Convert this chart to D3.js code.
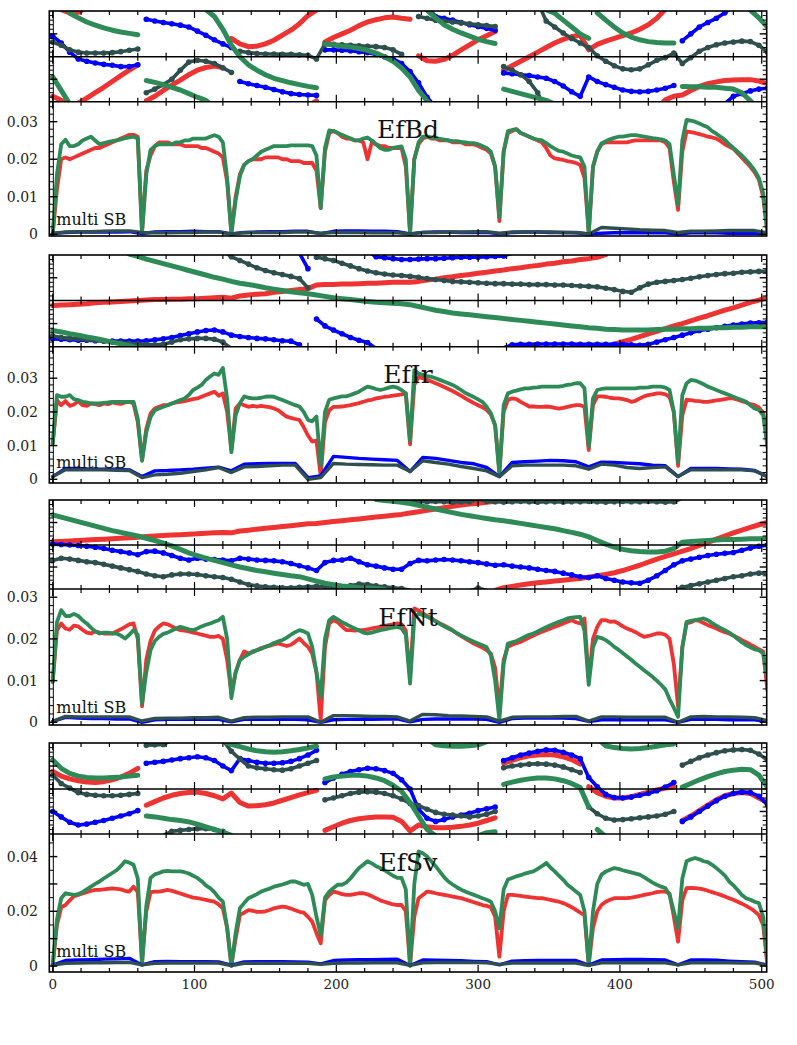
<!DOCTYPE html>
<html>
<head>
<meta charset="utf-8">
<script src="https://cdn.jsdelivr.net/npm/d3@7"></script>
<style>
  html, body { margin: 0; padding: 0; background: #fff; }
  svg { display: block; }
</style>
</head>
<body>
<div id="chart"></div>
<script>
// sample spacing along x for each kind of series
const ampStep = 3, lowStep = 9, phaseStep = 6;

// ---- amplitude, red / green (x 0..504 every 3), values x1e-3 ----
const bdRed = [
  0,12,20,20.5,20,20.5,21,21.5,22,22.5,23,23,23.5,24,24.5,25,25.5,26,26.5,26.5,26,
  0.5,17,21,23.5,24.5,24.5,24.5,24,24,24,23.5,23.5,23.5,23.5,23,23,22.5,22,21.5,20.5,14,
  0.5,10,16,18.5,19.5,20,20,20,20.5,20.5,20.5,20.5,20,20,19.5,19.5,19.5,19,19,19,17,
  7,22,27,27.5,27,26,25.5,25.5,25,25,24.5,20,24.5,24,23.5,23.5,23,23,23,23,18,
  0.5,20,24,25.5,26,25.5,25.5,25,25,25,24.5,24.5,24.5,24,24,24,23.5,23,22.5,21.5,18,
  3.5,22,27,27.5,28,27,26.5,26,25.5,25,24.5,23,21,20.2,20,19.8,19.5,19.3,19,18.5,15,
  0.5,18,22,24,24.5,24.5,24.5,24.5,24.5,24.5,24.8,25,25,25,25,25,25,25,24.5,23,14,
  6.5,22,27.4,27.2,27,26.7,26.4,26,25.8,25.5,24.8,24,23.4,22.8,21.6,20.4,19.2,18,16.5,14.5,10,
  0.5];
const bdGreen = [
  0,16,24,25.2,23.5,23.5,24,25,25.5,26,25,24,24.3,24.6,24.8,25,25.3,25.6,25.8,26,25.5,
  0.5,16,22.5,23.5,24,24,24,24,24.5,24.5,25,25,25.5,25.5,25.5,25.5,26,26.4,26,24.5,15,
  0,9,15.5,18.5,19.5,20,21,22,22.5,23,23.5,23.5,23.5,23.5,23.7,23.7,23.7,23.7,23.7,23.5,21,
  7,23,27.7,27.5,27,26.5,26,25.5,25,25,25.5,25.8,25,24,23,22.5,22.5,23,23.2,23.4,20,
  0,20,24.5,26,26,25.8,25.6,25.4,25.2,25,24.8,24.8,24.6,24.5,24.3,24.3,24,23.5,23,22,18,
  4.5,22,27.5,27.8,28,27,26.5,26,25.5,25.2,25,24.3,23.5,22.8,22.2,22,21.5,21,20.7,20.5,18,
  0,18,22,24.2,24.8,25.3,25.7,26,26,26.2,26.4,26.4,26.2,26,25.8,25.6,25.5,25.3,25,24,16,
  7.8,25,30.5,30.3,30,29.5,29,28.5,27.5,26.8,26,25.2,24,23,22,21,19.8,18.5,17,15,11,
  0];
const irRed = [
  10.5,23.5,22,23.2,21.8,22.2,23.2,22,21.8,22.5,22.3,22,22.5,22.3,22.8,22.5,22.4,22.8,23,22.5,17,
  5.7,15,19.5,21,21.5,22,22,22.5,22.8,23,23.2,23.5,23.8,24,24.5,25,25.5,26,24.8,25.5,20,
  8.7,21,22.5,22,21.5,21.8,21.6,21.8,21.6,21.4,21,20.5,19.5,18.6,18.2,17.9,17.6,15.5,13,11.2,11.5,
  1,17,20.5,21.5,21.5,21.6,21.8,22,22.3,22.6,23,23.4,23.6,24,24.2,24.5,24.6,24.8,25,25.2,25.5,
  10.4,28,30.4,30,29.5,29,28.5,28,27.4,26.8,26.2,25.5,24.8,24,23.3,22.6,22,21.4,20.6,19.2,16,
  2.4,20,23.6,24,23.8,23,22.3,21.6,21.6,21.5,21.5,21.6,21.5,21.2,21,21.2,21.5,21.8,22,22,21.5,
  8.7,22,24.6,24.6,24.5,24.2,24,24,23.8,23.5,23,23.3,24,24.6,25,25.2,25.5,25.5,25.2,24.5,20,
  4,19,23.6,23.5,23.3,23.2,23,23,23.2,23.4,23.6,23.8,24,24,23.6,23.2,22.8,22.3,22,21.3,19.8,
  12];
const irGreen = [
  10.5,25,24.5,24.5,25,23.8,23.5,23,22.8,22.5,22.5,22.5,22.7,22.8,23,23,23,23,23,23,18,
  5.5,14,18.5,20.5,21,21.5,22,22.5,23,23.5,24,25,26.5,27.2,28,29.5,30.5,31.4,31,33,24,
  8,19,22.6,24.6,24.2,24,24,24.2,24.5,24.6,24.5,24,23.5,23,22.5,22,21.6,20,17.6,17.2,18.6,
  4,20,23.6,24,24.3,24.6,24.6,25,25.5,26,26.8,27.5,27.2,26.8,26.5,26.8,27.2,27.5,27.2,26.5,25.5,
  11.4,32.4,31.4,31,30.6,30.4,30,29.5,29,28.5,28,27.3,26.5,25.6,25,24.4,23.7,23,21.5,19.6,16,
  1.3,22,25.5,26,26.3,26.7,27,27,27.2,27.3,27.5,27.5,27.5,27.5,27.5,27.7,28,28.2,28.5,28.5,27,
  9.7,24,26.5,26.8,27,27,27,27,27,27,27,27,27.2,27.2,27.3,27.5,27.5,27.5,27.2,26.5,20,
  5,25,28.5,29.5,29.3,28.8,28.2,27.5,27,26.5,26,25.5,25,24.5,24,23.5,23,22,21,20.6,19,
  9.7];
const ntRed = [
  9.7,22,23.7,22.5,22.2,23.2,23,22.2,21.5,21.3,21.8,21.5,21.3,21.3,21.3,21.8,22.3,22.9,23.5,23.7,20,
  3.8,15,19.5,22,23,23.7,23.5,23,22.5,22.1,22,21.8,21.5,21.3,21,20.8,20.5,20.5,20.7,20,15,
  7,12,15,17,16.5,16.8,17.3,17.8,18.1,18.4,18.7,18.9,18.6,18.3,18.6,19.3,20.1,19,18.1,16.5,12,
  0.5,18,23.7,24.5,24,23,22.1,22.1,22,22.1,22.1,22.3,22.5,22.7,22.9,23.1,23.3,23.5,23.7,23.5,22,
  10.9,27.3,26.8,26.1,25.5,25,24.3,23.7,23.2,22.7,22.1,21.3,20.7,20.1,19.5,18.9,18.4,17.9,17.3,16.5,13,
  3,15,18.1,18.6,19,19.3,19.8,20.3,20.8,21.3,21.7,22.1,22.5,22.9,23.3,23.7,24.1,24.5,24,23.7,24.9,
  10.1,20,22.9,24.5,24.5,24.1,24.2,23.7,23,22.5,22.1,21.6,21,20.5,20.7,21,21.3,21.3,21,20,14,
  3.8,18,23.7,24,24.5,24.3,23.8,23.3,22.9,22.5,22,21.6,21.3,20.8,20.3,19.7,19.2,18.6,18.1,17.5,17,
  7.7];
const ntGreen = [
  9.7,24,26.9,25.5,25.5,26,25.5,24.5,23.7,22.7,21.8,21.3,21.5,21.5,21.3,21.3,20.8,20.1,21,22.1,21,
  4.5,12,17.3,19.5,20.5,21.2,21.5,22,22.5,22.9,22.6,22.3,22.1,22.5,23,23.4,23.7,24.1,24.5,25.3,20,
  5.8,12,14.9,15.7,16.3,17,17.3,17.6,18.1,18.5,19,19.4,19.7,20.3,21,21.6,22.1,21.8,21.3,18.1,12,
  6.1,20,24.5,25.3,24.7,24,23.5,23,22.5,22,21.5,21.3,21.5,21.8,22.1,22.3,22.5,22.7,22.9,22.5,21,
  9.3,25,26.1,25.7,25.3,24.8,24.2,23.6,23,22.5,22,21.4,20.8,20.3,19.8,19.3,18.9,18.5,18,16,10,
  0.5,14,18.9,19.2,19.5,20,20.5,21,21.3,21.8,22.3,22.8,23.3,23.7,24.1,24.5,24.9,25.1,25.2,25.3,22,
  9,18,20.5,20.2,19.7,19,18.1,17.4,16.6,15.8,15,14.1,13.3,12.5,11.7,10.9,10,9,7.9,5.5,3.5,
  1.3,18,24.1,24.3,24.5,24.7,24.9,24.5,23.8,23.2,22.6,22.1,21.5,20.8,20,19.2,18.5,18,17.5,17.3,16.5,
  10.1];
const svRed = [
  0.3,15,21.5,22.3,24,25.5,26,26.5,27,27.5,27.8,27.8,28,28.2,28.4,28.2,28,27.5,27.2,29,27,
  1.6,20,27,27.2,27.2,27.5,27.8,27.5,27,26.5,26,25.5,25,24.8,24.5,24.2,23.8,23.5,22.5,21.1,14,
  0.4,10,18.6,19.5,20.4,20.2,19.8,19.8,20,20.5,21.1,21.4,21.7,21.5,21,20.4,19.8,19.5,18,16.2,12,
  8.3,24,26,27.2,26.8,26.3,26,26,26.3,26.6,26.6,26.2,25.5,24.8,24,23.5,23,22.5,22.3,22.3,20,
  0.4,18,24.8,26,27.2,27,26.6,26.3,26,25.7,25.4,25.1,24.8,24.3,23.8,23.3,22.8,22.3,22,21.5,18,
  3.4,20,26,26,25.8,25.6,25.4,25.2,25,24.8,24.8,24.5,24.2,23.8,23.5,23,22.3,21.5,20.5,19.5,18.6,
  0.4,14,20,22.3,23.5,24.2,24.8,24.8,24.8,24.8,25,25.3,25.6,26,26.3,26.6,27,27.2,27.2,26.5,18,
  8.9,24,28.5,28.6,28.5,28.3,28,27.5,27,26.5,26,25.4,24.8,24.2,23.5,22.8,22,21.1,20,18.6,15,
  0.4];
const svGreen = [
  0.3,17,24.8,26.6,26.3,26,26.3,27,28,29,30,30.9,32,33,34,35,36.5,38.3,37.8,37,32,
  0.4,22,32.2,33.5,34,34.6,34.8,34.6,34.6,34.6,34.3,33.8,33,32.2,31,29.5,28.5,27,25,23.5,14,
  0,12,21.1,23,24.8,25.5,26.3,27.2,27.8,28.3,29,29.4,29.8,30.3,30.9,30.9,30.3,29.7,30,26,18,
  11.3,25,27.2,28.5,29.7,29.7,30.5,32,34,35.8,37,38.3,37.5,36.5,35.8,35,34,33,32.2,32.2,28,
  0,30,41.9,41.2,40,38.3,36.5,34.5,32.5,30.9,29.8,28.8,27.9,27.2,26.6,26,25.4,24.8,24.2,23.5,20,
  13.8,28,31.6,32.2,32.8,33.2,33.8,34.2,34.6,35.5,36.5,37.7,36,34.6,33,31.5,29.7,28.5,27.2,26,20,
  0.4,20,30,33.4,34.5,35.2,35.8,35.5,35,34.6,34.2,33.8,33.4,32.5,31.5,30.5,29.7,29,28.5,26,20,
  13.8,32,38.3,39,39.5,39,38.3,38,37,35.8,34.5,33,30.9,29.5,27.8,26,24.8,24.2,23.5,23,18,
  0.4];

// ---- amplitude, blue / dark gray (x 0..504 every 9), values x1e-3 ----
const bdBlue = [0.2,0.5,0.6,0.6,0.6,0.6,0.7,0.2,0.6,0.7,0.7,0.8,0.7,0.7,0.1,0.5,0.6,0.7,0.7,0.8,0.8,0.2,0.8,0.9,0.9,0.8,0.8,0.7,0.1,0.5,0.6,0.6,0.5,0.5,0.5,0.1,0.5,0.6,0.6,0.5,0.5,0.4,0.1,0.3,0.4,0.4,0.4,0.4,0.4,0.1,0.4,0.4,0.4,0.3,0.3,0.3,0.1];
const bdGray = [0.2,0.6,0.7,0.7,0.8,0.9,0.9,0.5,0.4,0.4,0.5,0.5,0.6,0.6,0.1,0.4,0.5,0.5,0.5,0.6,0.6,0.3,0.5,0.5,0.5,0.4,0.4,0.4,0.1,0.5,0.5,0.6,0.6,0.7,0.7,0.3,0.6,0.6,0.6,0.6,0.5,0.5,0.1,1.8,1.6,1.4,1.2,1.1,1,0.5,0.8,0.8,0.9,1,1,1,0.4];
const irBlue = [0.8,3.2,3.2,3,3,3,2.8,0.8,2.5,2.6,2.8,3,3.3,3.6,2.5,4.5,4.6,4.7,4.7,4.7,0.5,1,6.8,6.5,6.2,6,5.8,5.6,2.3,6.5,6.2,5.6,5,4.6,3.5,0.8,5,5.2,5.4,5.6,5.5,5.2,3.7,5.1,5,4.8,4.6,4.2,4,0.8,3.2,3.2,3.2,3.1,3,2.6,0.8];
const irGray = [0.8,2.8,2.8,2.8,2.8,2.7,2.6,0.5,1.3,1.5,1.8,2.3,2.8,3.5,2,3.7,3.8,4,4.2,4.2,0,0.5,4.7,4.5,4.4,4.3,4.2,4.2,2.3,5.5,5,4.5,3.8,3.2,2.5,0.8,4,4.2,4.2,4.2,4.2,4,3,4.5,4.2,3.5,3.2,3.5,3.7,0.8,2.8,2.8,2.8,2.8,2.8,2.5,0.8];
const ntBlue = [0.2,1.2,1,0.9,0.9,0.8,0.8,0,0.6,0.7,0.7,0.7,0.7,0.7,0.1,0.7,0.7,0.7,0.7,0.7,0.6,0,0.6,0.7,0.7,0.7,0.8,0.8,0.1,0.7,0.8,0.8,0.8,0.8,0.7,0,0.9,1,1,1,1,0.9,0.2,0.6,0.6,0.6,0.6,0.6,0.6,0,0.7,0.7,0.7,0.6,0.6,0.6,0.2];
const ntGray = [0.2,1.4,1.3,1.3,1.3,1.3,1.3,0.3,0.9,1,1,1.1,1.1,1.2,0.3,1.1,1.2,1.2,1.3,1.3,1.3,0,1.6,1.6,1.5,1.4,1.4,1.3,0.3,1.9,1.8,1.6,1.5,1.4,1.3,0.3,1.2,1.3,1.3,1.3,1.4,1.4,0.3,1.3,1.3,1.2,1.2,1.2,1.2,0,1.3,1.4,1.3,1.3,1.2,1.1,0.4];
const svBlue = [0.3,2,2.2,2.3,2.5,2.6,2.8,0.4,1.6,1.7,1.6,1.6,1.6,1.5,0.3,1.5,1.6,1.6,1.6,1.5,1.4,0.8,2,2.2,2.3,2.3,2.4,2.5,0.2,2.2,2.1,2,1.9,1.7,1.6,0.4,1.8,1.9,2,2,2,2,0.3,2.2,2.3,2.4,2.4,2.3,2.2,0.4,2.2,2.2,2.1,1.8,1.6,1.4,0.3];
const svGray = [0.3,1,1.1,1.2,1.2,1.3,1.3,0.4,1,1.1,1.1,1.1,1.1,1.1,0.2,1,1,1,1,1,1,0.6,1,1.1,1.1,1.2,1.2,1.2,0.2,1.2,1.3,1.3,1.3,1.3,1.2,0.6,1.1,1.1,1.1,1.1,1.1,1.1,0.2,1.2,1.2,1.2,1.2,1.2,1.2,0.4,1.2,1.2,1.2,1.2,1.1,1.1,0.3];

// ---- phase (x 0..504 every 6), -100 = bottom of lower strip, 100 = top of upper strip ----
const bdPhRed = [
  -88,-97,96,97,-92,-80,-68,-55,-42,-30,-18,
  -98,-88,-75,-63,-52,-40,-30,-24,-21,-24,40,
  28,22,23,28,36,47,58,72,90,-98,32,
  42,50,58,68,76,81,85,87,84,82,2,
  -9,-10,-6,3,15,26,37,46,55,-30,-20,
  -10,0,10,20,30,38,44,47,15,27,34,
  40,46,52,60,70,84,-96,-88,-85,-75,-66,
  -60,-56,-53,-52,-51,-51,-54,-60];
const bdPhBlue = [
  45,30,10,-5,-10,-14,-17,-19,-22,-22,-18,
  82,78,75,72,69,65,56,47,37,28,20,
  -55,-60,-64,-68,-73,-78,-82,-84,-85,-86,15,
  15,14,13,11,9,5,0,-5,-15,-33,-58,
  -90,88,84,80,75,70,66,62,58,-36,-38,
  -40,-42,-45,-48,-55,-65,-78,-88,-45,-55,-62,
  -68,-74,-77,-78,-77,-74,-70,-64,35,50,65,
  75,84,96,-88,-82,-76,-72,-70];
const bdPhGray = [
  32,25,15,10,8,8,8,9,11,14,17,
  -80,-72,-62,-50,-30,-12,-8,-10,-15,-25,-35,
  12,9,7,6,6,5,5,4,3,-5,28,
  27,26,25,24,23,22,20,15,5,null,88,
  84,80,78,76,74,72,70,68,66,-22,-30,
  -40,-55,-80,78,65,52,40,30,20,2,-10,
  -20,-27,-29,-27,-18,-8,-2,8,-15,-2,12,
  20,26,30,32,34,33,25,10];
const bdPhGreen = [
  -45,-75,95,85,76,69,63,58,54,51,48,
  -53,-57,-62,-68,-74,-82,-90,-97,88,60,25,
  0,-18,-30,-40,-48,-53,-58,-62,-66,-69,28,
  26,23,21,18,14,8,0,-10,-25,-45,-75,
  -98,85,70,60,52,45,38,33,29,-72,-77,
  -82,-87,-92,-97,95,80,65,50,40,96,80,
  65,52,43,37,33,31,30,30,-66,-67,-67,
  -68,-68,-70,-72,-80,-98,85,65];

const irPhRed = [
  -11,-10,-9,-8,-7,-5,-4,-3,-2,-1,0,
  1,2,2,3,3,4,4,5,6,7,5,
  10,12,14,15,18,20,22,24,26,34,35,
  35,36,36,37,38,38,39,40,40,40,42,
  45,47,50,52,55,57,60,62,65,67,70,
  72,75,77,80,82,85,87,90,92,95,-99,
  -95,-89,-84,-78,-72,-67,-61,-55,-50,-44,-38,
  -33,-27,-21,-16,-10,-4,1,6];
const irPhBlue = [
  -83,-84,-85,-86,-86,-87,-87,-88,-88,-88,-88,
  -87,-85,-83,-80,-76,-72,-68,-65,-64,-68,-75,
  -78,-80,-82,-83,-85,-87,-88,-96,70,-40,-55,
  -64,-72,-80,-86,-91,96,94,92,90,90,91,
  92,92,93,94,95,95,95,96,97,98,-96,
  -95,-95,-94,-94,-94,-94,-94,-95,-95,-95,-95,
  -95,-95,-96,-97,-95,-90,-85,-80,-75,-70,-65,
  -62,-59,-56,-53,-51,-49,-48,-47];
const irPhGray = [
  -77,-80,-82,-83,-85,-86,-88,-90,-91,-93,-94,
  -95,-96,-95,-90,-85,-83,-82,-82,-84,-90,96,
  88,80,72,66,61,57,53,48,28,95,92,
  88,82,76,70,65,61,58,56,55,53,51,
  48,46,44,42,41,40,39,38,37,37,36,
  36,35,35,35,34,34,33,32,31,30,27,
  24,20,18,28,36,40,42,44,46,49,52,
  55,57,59,60,62,63,64,64];
const irPhGreen = [
  -65,-68,-72,-75,-79,-82,-86,-90,-94,-98,97,
  91,86,81,76,71,66,61,56,51,47,42,
  38,35,32,28,25,22,19,17,15,12,9,
  6,4,2,0,-2,-4,-5,-6,-7,-9,-13,
  -17,-21,-24,-27,-29,-31,-33,-35,-37,-39,-41,
  -43,-45,-47,-49,-51,-53,-55,-57,-59,-60,-62,
  -63,-64,-64,-64,-64,-63,-62,-62,-61,-61,-60,
  -60,-59,-59,-58,-58,-57,-57,-57];

const ntPhRed = [
  7,8,9,10,11,12,13,14,15,16,17,
  19,20,21,22,23,24,25,26,27,28,27,
  31,33,35,37,39,41,43,45,47,48,50,
  52,54,56,58,60,62,64,66,68,71,74,
  77,80,83,86,89,91,93,95,97,-97,-94,
  -91,-88,-86,-84,-82,-80,-78,-76,-73,-70,-67,
  -63,-58,-52,-46,-39,-32,-26,-20,-14,-8,-1,
  6,13,20,27,33,39,45,50];
const ntPhBlue = [
  2,1,0,-1,-3,-5,-8,-12,-15,-18,-22,
  -15,-14,-18,-24,-30,-34,-30,-32,-33,-34,-36,
  -30,-32,-34,-35,-36,-38,-42,-47,-52,-58,-40,
  -35,-34,-30,-38,-45,-48,-52,-55,-55,-42,-35,
  -36,-34,-33,-34,-36,-38,-40,-43,-46,-45,-48,
  -50,-52,-55,-58,-60,-64,-68,-72,-74,-70,-76,
  -80,-84,-86,-87,-80,-70,-58,-45,-36,-32,-28,
  -24,-21,-19,-17,-12,-7,-3,0];
const ntPhGray = [
  -35,-30,-32,-35,-38,-40,-44,-48,-52,-56,-60,
  -66,-70,-72,-68,-66,-66,-67,-70,-72,-74,-78,
  -84,-90,-93,-95,-96,-97,-97,-96,-95,-94,-95,
  -96,-95,-92,-89,-90,-93,-95,-97,-99,97,96,
  96,97,96,95,96,96,-98,97,96,95,96,
  97,96,95,96,96,95,96,96,97,96,95,
  96,97,96,96,97,96,95,96,-96,-92,-88,
  -84,-80,-76,-72,-70,-66,-64,-64];
const ntPhGreen = [
  67,62,57,52,47,42,37,32,28,24,20,
  15,10,4,-2,-10,-18,-24,-30,-35,-40,-45,
  -50,-54,-58,-61,-64,-67,-70,-72,-77,-82,-87,
  -90,-93,-95,-97,-98,-99,99,97,95,92,88,
  84,80,76,72,68,65,62,59,56,54,51,
  48,45,42,39,36,32,28,24,18,10,2,
  -5,-10,-13,-15,-16,-16,-14,-8,6,8,9,
  10,11,12,12,13,14,14,15];

const svPhRed = [
  38,28,22,18,15,14,16,20,26,34,45,
  -36,-28,-20,-14,-10,-8,-7,-10,-15,-22,-9,
  -30,-38,-37,-35,-31,-25,-19,-13,-8,-3,-92,
  -84,-76,-70,-66,-64,-62,-62,-63,-72,-93,-80,
  -84,-86,-86,-85,-83,-80,-76,-70,-64,56,62,
  68,72,74,75,74,70,64,54,5,-8,-16,
  -20,-20,-17,-12,-7,-2,2,4,-70,-60,-48,
  -36,-24,-15,-10,-8,-10,-20,-30];
const svPhBlue = [
  -50,-62,-74,-80,-78,-74,-70,-65,-60,-55,-48,
  56,58,60,63,66,68,70,68,62,50,40,
  66,62,58,56,56,57,60,66,74,84,14,
  24,32,38,42,45,44,40,34,20,0,-45,
  -65,-72,-68,-62,-58,-54,-48,-44,-40,62,68,
  74,78,82,85,84,80,74,66,25,5,-12,
  -19,-20,-18,-14,-10,-4,4,14,-72,-62,-50,
  -38,-26,-16,-10,-7,-8,-16,-35];
const svPhGray = [
  30,12,2,-8,-12,-14,-15,-15,-14,-12,-10,
  95,96,97,-94,-92,-90,-88,-88,-90,-94,82,
  65,50,46,44,42,41,44,50,56,62,-24,
  -20,-15,-10,-7,-6,-7,-10,-15,-22,-32,-37,
  -45,-52,-56,-58,-60,-62,-60,-56,-50,46,50,
  52,54,55,54,52,48,42,36,-40,-55,-65,
  -69,-68,-66,-64,-62,-60,-56,-50,52,60,68,
  74,79,83,85,86,84,76,63];
const svPhGreen = [
  63,45,34,28,25,24,24,25,26,28,30,
  -60,-62,-65,-68,-70,-73,-78,-84,-90,-96,97,
  92,87,83,81,80,81,83,86,89,93,22,
  26,28,30,30,28,24,18,8,-5,-30,-60,
  -90,96,94,93,93,94,96,-97,-95,10,15,
  19,22,24,24,22,18,12,3,-40,-90,94,
  90,88,87,88,90,93,96,98,4,12,20,
  27,33,38,41,43,42,30,4];

const groupNames = ["EfBd", "EfIr", "EfNt", "EfSv"];
const xTickLabels = [0, 100, 200, 300, 400, 500];

// ---- layout (pixels) ----
const W = 797, H = 1045;
const xLeft = 49.3, xRight = 766.7;
const layout = [
  { top: 11,  mid: 56.7,  pb: 101.7, mb: 236, yMin: -0.45, yMax: 35.33, minor: 2, major: 10, labelStep: 10, note: 11 },
  { top: 255, mid: 300.5, pb: 346.7, mb: 483, yMin: -1.1,  yMax: 39.35, minor: 2, major: 10, labelStep: 10, note: 14.7 },
  { top: 500, mid: 545,   pb: 589,   mb: 725, yMin: -0.65, yMax: 31.97, minor: 2, major: 10, labelStep: 10, note: 11.7 },
  { top: 743, mid: 789,   pb: 834,   mb: 972, yMin: -2.19, yMax: 48.26, minor: 5, major: 10, labelStep: 20, note: 15.3 }
];
const series = [
  { red: bdRed, green: bdGreen, blue: bdBlue, gray: bdGray, ph: [bdPhRed, bdPhBlue, bdPhGray, bdPhGreen] },
  { red: irRed, green: irGreen, blue: irBlue, gray: irGray, ph: [irPhRed, irPhBlue, irPhGray, irPhGreen] },
  { red: ntRed, green: ntGreen, blue: ntBlue, gray: ntGray, ph: [ntPhRed, ntPhBlue, ntPhGray, ntPhGreen] },
  { red: svRed, green: svGreen, blue: svBlue, gray: svGray, ph: [svPhRed, svPhBlue, svPhGray, svPhGreen] }
];

const RED = "#ee3333", GREEN = "#2e8b57", BLUE = "#0000ff", GRAY = "#2f4f4f";
const phColors = [RED, BLUE, GRAY, GREEN];
const font = "DejaVu Serif, serif";

const x = d3.scaleLinear().domain([-2.4, 503.5]).range([xLeft, xRight]);

const svg = d3.select("#chart").append("svg")
  .attr("width", W).attr("height", H)
  .attr("viewBox", [0, 0, W, H]);

// split a wrapped phase series into drawable runs;
// a wrap (value leaving one edge, coming back at the other) is continued across the edge
function phaseRuns(vals) {
  const runs = [];
  let cur = [];
  vals.forEach((v, i) => {
    const xv = i * phaseStep;
    if (v == null) { if (cur.length) runs.push(cur); cur = []; return; }
    if (cur.length) {
      const p = cur[cur.length - 1];
      const d = v - p[1];
      if (Math.abs(d) > 45) {
        const wrap = Math.abs(Math.abs(d) - 200) < 50;
        if (wrap) cur.push([xv, d < 0 ? v + 200 : v - 200]);
        runs.push(cur);
        cur = wrap ? [[p[0], d < 0 ? p[1] - 200 : p[1] + 200]] : [];
      }
    }
    cur.push([xv, v]);
  });
  if (cur.length) runs.push(cur);
  return runs;
}

layout.forEach((L, gi) => {
  const S = series[gi];
  const g = svg.append("g");

  const yPh = d3.scaleLinear().domain([-100, 0, 100]).range([L.pb, L.mid, L.top]);
  const yAmp = d3.scaleLinear().domain([L.yMin, L.yMax]).range([L.mb, L.pb]);

  const clipPh = "clipPh" + gi, clipAmp = "clipAmp" + gi;
  const defs = svg.append("defs");
  defs.append("clipPath").attr("id", clipPh).append("rect")
    .attr("x", xLeft).attr("y", L.top).attr("width", xRight - xLeft).attr("height", L.pb - L.top);
  defs.append("clipPath").attr("id", clipAmp).append("rect")
    .attr("x", xLeft).attr("y", L.pb).attr("width", xRight - xLeft).attr("height", L.mb - L.pb);

  // phase strips
  const gp = g.append("g").attr("clip-path", `url(#${clipPh})`);
  const phLine = d3.line().x(d => x(d[0])).y(d => yPh(d[1]));
  S.ph.forEach((vals, k) => {
    const col = phColors[k];
    const dotted = col === BLUE || col === GRAY;
    const runs = phaseRuns(vals);
    runs.forEach(run => {
      if (run.length > 1) {
        gp.append("path").attr("d", phLine(run))
          .attr("fill", "none").attr("stroke", col)
          .attr("stroke-width", dotted ? 3.6 : 5)
          .attr("stroke-linecap", "round").attr("stroke-linejoin", "round");
      }
    });
    const pts = vals.map((v, i) => [i * phaseStep, v]).filter(d => d[1] != null);
    if (dotted) {
      gp.append("g").selectAll("circle").data(pts).join("circle")
        .attr("cx", d => x(d[0])).attr("cy", d => yPh(d[1]))
        .attr("r", 2.8).attr("fill", col);
    } else {
      runs.filter(r => r.length === 1).forEach(r => {
        gp.append("circle").attr("cx", x(r[0][0])).attr("cy", yPh(r[0][1]))
          .attr("r", 2.6).attr("fill", col);
      });
    }
  });

  // amplitude panel
  const ga = g.append("g").attr("clip-path", `url(#${clipAmp})`);
  const ampLine = step => d3.line().x((d, i) => x(i * step)).y(d => yAmp(d));
  [[S.red, RED, ampStep, 3.8], [S.green, GREEN, ampStep, 3.8], [S.blue, BLUE, lowStep, 3.4], [S.gray, GRAY, lowStep, 3.4]]
    .forEach(([vals, col, step, sw]) => {
      ga.append("path").attr("d", ampLine(step)(vals))
        .attr("fill", "none").attr("stroke", col).attr("stroke-width", sw)
        .attr("stroke-linejoin", "round").attr("stroke-linecap", "round");
    });

  // frames
  const axes = g.append("g").attr("stroke", "#000").attr("fill", "none");
  axes.append("rect").attr("x", xLeft).attr("y", L.top)
    .attr("width", xRight - xLeft).attr("height", L.mb - L.top).attr("stroke-width", 1.6);
  [L.mid, L.pb].forEach(yy => axes.append("line")
    .attr("x1", xLeft).attr("x2", xRight).attr("y1", yy).attr("y2", yy).attr("stroke-width", 1.6));
  // inner left rail
  axes.append("line").attr("x1", xLeft + 4).attr("x2", xLeft + 4)
    .attr("y1", L.top).attr("y2", L.mb).attr("stroke-width", 1);

  // x ticks on every horizontal edge
  const xt = d3.range(0, 501, 20);
  const edges = [[L.top, 1], [L.mid, -1], [L.mid, 1], [L.pb, -1], [L.pb, 1], [L.mb, -1]];
  edges.forEach(([yy, dir]) => {
    xt.forEach(v => {
      const len = v % 100 === 0 ? 7 : 4;
      axes.append("line").attr("x1", x(v)).attr("x2", x(v))
        .attr("y1", yy).attr("y2", yy + dir * len).attr("stroke-width", 1.2);
    });
  });

  // y ticks, phase strips
  d3.range(-90, 100, 10).forEach(v => {
    const major = Math.abs(v) === 50;
    const yy = yPh(v);
    axes.append("line").attr("x1", xLeft).attr("x2", xLeft + (major ? 8 : 4))
      .attr("y1", yy).attr("y2", yy).attr("stroke-width", major ? 1.4 : 1);
    axes.append("line").attr("x1", xRight).attr("x2", xRight - (major ? 7 : 4))
      .attr("y1", yy).attr("y2", yy).attr("stroke-width", major ? 1.4 : 1);
  });

  // y ticks, amplitude panel
  d3.range(0, L.yMax, L.minor).forEach(v => {
    const major = Math.abs(v % L.major) < 1e-9;
    const yy = yAmp(v);
    axes.append("line").attr("x1", xLeft).attr("x2", xLeft + (major ? 8 : 4))
      .attr("y1", yy).attr("y2", yy).attr("stroke-width", major ? 1.4 : 1);
    axes.append("line").attr("x1", xRight).attr("x2", xRight - (major ? 7 : 4))
      .attr("y1", yy).attr("y2", yy).attr("stroke-width", major ? 1.4 : 1);
  });

  // y labels
  const fmt = d3.format("~g");
  g.append("g").selectAll("text")
    .data(d3.range(0, L.yMax, L.labelStep))
    .join("text")
    .attr("x", 38).attr("y", d => yAmp(d)).attr("dy", "0.36em")
    .attr("text-anchor", "end").attr("font-family", font).attr("font-size", 14)
    .attr("fill", "#222").text(d => fmt(d / 1000));

  // panel name and note
  g.append("text").attr("x", (xLeft + xRight) / 2).attr("y", L.pb + 36.6)
    .attr("text-anchor", "middle").attr("font-family", font).attr("font-size", 25)
    .attr("fill", "#111").text(groupNames[gi]);
  g.append("text").attr("x", xLeft + 7).attr("y", L.mb - L.note)
    .attr("font-family", font).attr("font-size", 16).attr("fill", "#111").text("multi SB");

  // bottom x labels on last group
  if (gi === layout.length - 1) {
    g.append("g").selectAll("text").data(xTickLabels).join("text")
      .attr("x", d => x(d)).attr("y", L.mb + 17)
      .attr("text-anchor", "middle").attr("font-family", font).attr("font-size", 13.5)
      .attr("fill", "#222").text(d => d);
  }
});
</script>
</body>
</html>
